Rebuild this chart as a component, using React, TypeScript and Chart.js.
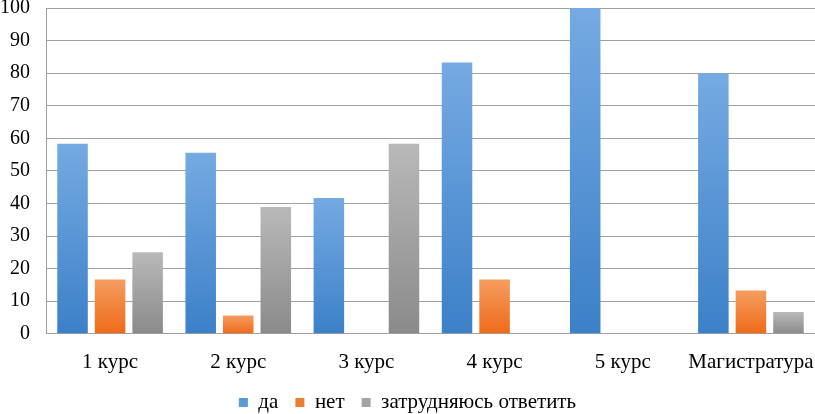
import React, { useEffect, useRef } from "react";
import { Chart, registerables } from "chart.js";

Chart.register(...registerables);

const categories = ["1 курс", "2 курс", "3 курс", "4 курс", "5 курс", "Магистратура"];
const seriesNames = ["да", "нет", "затрудняюсь ответить"];
const yesValues = [58.3, 55.6, 41.7, 83.3, 100, 80];
const noValues = [16.7, 5.6, 0, 16.7, 0, 13.3];
const unsureValues = [25, 38.9, 58.3, 0, 0, 6.7];
const legendColors = ["#5b9bd5", "#ed7d31", "#a5a5a5"];
const gradTop = ["#75aae2", "#f59d60", "#b9b9b9"];
const gradBottom = ["#3c80c8", "#ef6a18", "#8a8a8a"];

const FONT = "'Liberation Serif', 'Times New Roman', serif";

function barGradient(i: number) {
  return (ctx: any) => {
    const chart = ctx.chart;
    if (ctx.type !== "data" || !chart.chartArea) return legendColors[i];
    const y = chart.scales.y;
    const top = y.getPixelForValue(ctx.raw);
    const bottom = y.getPixelForValue(0);
    if (!isFinite(top) || bottom - top < 1) return legendColors[i];
    const g = chart.ctx.createLinearGradient(0, top, 0, bottom);
    g.addColorStop(0, gradTop[i]);
    g.addColorStop(1, gradBottom[i]);
    return g;
  };
}

export default function App() {
  const ref = useRef<HTMLCanvasElement>(null);
  useEffect(() => {
    document.body.style.margin = "0";
    Chart.defaults.font.family = FONT;
    const data = [yesValues, noValues, unsureValues];
    const chart = new Chart(ref.current!, {
      type: "bar",
      data: {
        labels: categories,
        datasets: seriesNames.map((n, i) => ({
          label: n,
          data: data[i],
          backgroundColor: barGradient(i),
          borderWidth: 0,
          categoryPercentage: 0.879,
          barPercentage: 0.813,
        })),
      },
      options: {
        animation: false,
        responsive: false,
        layout: { padding: { top: 0, left: 0, right: 0, bottom: -9 } },
        plugins: {
          tooltip: { enabled: false },
          legend: {
            position: "bottom",
            labels: {
              font: { family: FONT, size: 21 },
              color: "#000",
              boxWidth: 9,
              boxHeight: 9,
              padding: 17,
              generateLabels: () =>
                seriesNames.map((n, i) => ({
                  text: n,
                  fillStyle: legendColors[i],
                  strokeStyle: legendColors[i],
                  fontColor: "#000",
                  lineWidth: 0,
                  datasetIndex: i,
                  hidden: false,
                })),
            },
          },
        },
        scales: {
          x: {
            grid: { display: true, drawOnChartArea: false, drawTicks: true, tickLength: 16, tickColor: "rgba(0,0,0,0)" },
            border: { display: true, color: "#a0a0a0", width: 1 },
            ticks: { font: { family: FONT, size: 21 }, color: "#000", padding: 0, maxRotation: 0, autoSkip: false },
          },
          y: {
            min: 0,
            max: 100,
            grid: { color: "#a0a0a0", lineWidth: 1, drawTicks: true, tickLength: 16, tickColor: "rgba(0,0,0,0)" },
            border: { display: true, color: "#a0a0a0", width: 1 },
            ticks: { stepSize: 10, font: { family: FONT, size: 20, lineHeight: 0.8 }, color: "#000", padding: 0 },
          },
        },
      },
    } as any);
    return () => chart.destroy();
  }, []);
  return <canvas ref={ref} width={815} height={414} />;
}
